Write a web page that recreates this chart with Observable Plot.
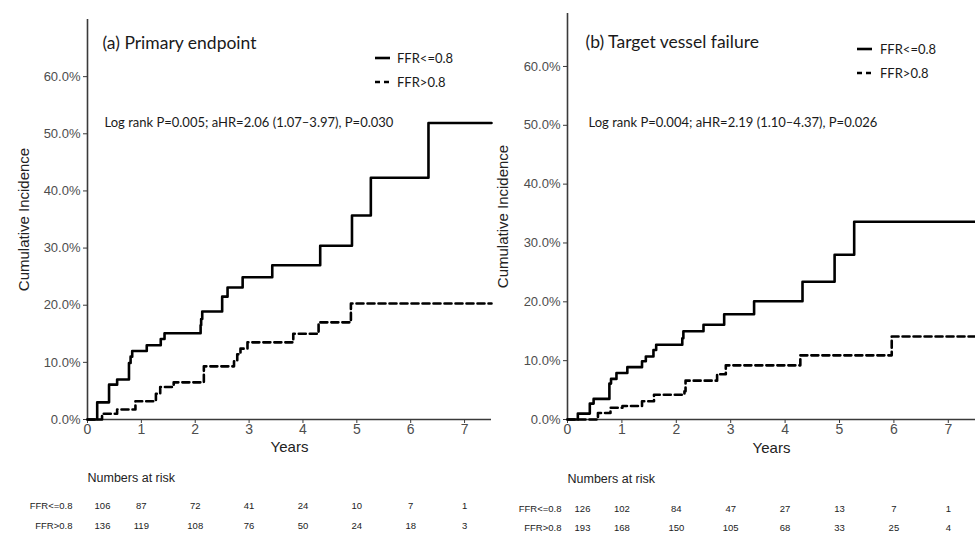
<!DOCTYPE html>
<html>
<head>
<meta charset="utf-8">
<script src="https://cdn.jsdelivr.net/npm/d3@7"></script>
<script src="https://cdn.jsdelivr.net/npm/@observablehq/plot@0.6"></script>
<style>
  html, body { margin: 0; padding: 0; background: #fff; }
  #wrap { position: relative; width: 975px; height: 539px; overflow: hidden; }
  #wrap svg { position: absolute; top: 0; }
</style>
</head>
<body>
<div id="wrap"></div>
<script>
// ---- data ----
const years = [0, 1, 2, 3, 4, 5, 6, 7];
const groups = ["FFR<=0.8", "FFR>0.8"];

// Panel (a) Primary endpoint
const aLowT = [0, 0.18, 0.40, 0.55, 0.77, 0.80, 0.83, 1.10, 1.36, 1.43, 2.10, 2.11, 2.13, 2.50, 2.60, 2.88, 3.43, 4.32, 4.91, 5.26, 6.33, 7.5];
const aLowV = [0, 3.0, 6.1, 7.0, 9.9, 11.0, 12.0, 13.0, 14.1, 15.1, 16.5, 17.6, 18.9, 21.5, 23.1, 24.9, 27.0, 30.4, 35.7, 42.3, 51.9, 51.9];
const aHighT = [0, 0.27, 0.55, 0.89, 1.27, 1.35, 1.60, 2.16, 2.72, 2.78, 2.84, 2.97, 3.82, 4.29, 4.89, 7.5];
const aHighV = [0, 1.0, 1.75, 3.2, 4.5, 5.7, 6.5, 9.3, 10.2, 11.4, 12.4, 13.5, 15.0, 17.0, 20.3, 20.3];
const aRiskLow = [106, 87, 72, 41, 24, 10, 7, 1];
const aRiskHigh = [136, 119, 108, 76, 50, 24, 18, 3];
const aTitle = "(a) Primary endpoint";
const aStat = "Log rank P=0.005; aHR=2.06 (1.07\u20133.97), P=0.030";

// Panel (b) Target vessel failure
const bLowT = [0, 0.19, 0.41, 0.48, 0.77, 0.80, 0.90, 1.10, 1.37, 1.44, 1.58, 1.63, 2.11, 2.13, 2.50, 2.88, 3.43, 4.32, 4.91, 5.27, 7.5];
const bLowV = [0, 1.0, 2.7, 3.5, 6.1, 6.9, 7.9, 8.9, 9.9, 10.7, 11.8, 12.7, 13.8, 15.0, 16.1, 17.9, 20.1, 23.4, 28.0, 33.6, 33.6];
const bHighT = [0, 0.56, 0.79, 1.01, 1.37, 1.59, 2.15, 2.17, 2.75, 2.91, 4.28, 5.96, 7.5];
const bHighV = [0, 1.1, 2.0, 2.3, 3.1, 4.2, 4.8, 6.6, 7.7, 9.2, 10.9, 14.1, 14.1];
const bRiskLow = [126, 102, 84, 47, 27, 13, 7, 1];
const bRiskHigh = [193, 168, 150, 105, 68, 33, 25, 4];
const bTitle = "(b) Target vessel failure";
const bStat = "Log rank P=0.004; aHR=2.19 (1.10\u20134.37), P=0.026";

const yTicks = [0, 0.1, 0.2, 0.3, 0.4, 0.5, 0.6];
const yLabel = "Cumulative Incidence";
const xLabel = "Years";
const riskTitle = "Numbers at risk";

// ---- drawing ----
const toPts = (T, V) => T.map((t, i) => ({t, v: V[i] / 100}));
const toRisk = (R) => R.map((n, i) => ({t: years[i], n}));

const SANS = "'Liberation Sans', Arial, sans-serif";
const CAL = "Lato, 'Open Sans', sans-serif";
const GREY = "#4d4d4d";
const AX = "#3a3a3a";

function panel(o) {
  const lowRisk = toRisk(o.riskLow), highRisk = toRisk(o.riskHigh);
  const svg = Plot.plot({
    width: o.width,
    height: 539,
    marginLeft: o.ml,
    marginRight: 0,
    marginTop: o.mt,
    marginBottom: 120,
    style: {fontFamily: SANS, background: "transparent", overflow: "visible"},
    x: {domain: [0, 7.5]},
    y: {domain: [0, o.yMax]},
    marks: [
      Plot.axisY({ticks: yTicks, tickFormat: d3.format(".1%"), tickSize: 4, tickPadding: 3, fontSize: 13, color: GREY, stroke: AX, label: null}),
      Plot.axisX({ticks: years, tickSize: 4, tickPadding: 1, fontSize: 14, color: GREY, stroke: AX, label: null}),
      Plot.ruleX([0], {stroke: AX, strokeWidth: 1.6}),
      Plot.ruleY([0], {stroke: AX, strokeWidth: 1.6}),
      Plot.line(toPts(o.lowT, o.lowV), {x: "t", y: "v", curve: "step-after", stroke: "#000", strokeWidth: 2.6}),
      Plot.line(toPts(o.highT, o.highV), {x: "t", y: "v", curve: "step-after", stroke: "#000", strokeWidth: 2.6, strokeDasharray: "7,4"}),
      // axis titles
      Plot.text([xLabel], {frameAnchor: "bottom", dy: o.yearsDy, text: d => d, fontSize: 15, fill: "#222"}),
      Plot.text([yLabel], {frameAnchor: "left", dx: o.ylabDx, rotate: -90, textAnchor: "middle", text: d => d, fontSize: 15, fill: "#222"}),
      // title and statistics
      Plot.text([o.title], {frameAnchor: "top-left", dx: o.titleDx, dy: o.titleDy, textAnchor: "start", text: d => d, fontSize: 17.5, fontFamily: CAL, fill: "#1a1a1a"}),
      Plot.text([o.stat], {frameAnchor: "top-left", dx: o.statDx, dy: o.statDy, textAnchor: "start", text: d => d, fontSize: 13, fontFamily: CAL, fill: "#1a1a1a"}),
      // risk table
      Plot.text([riskTitle], {frameAnchor: "bottom-left", dy: o.riskTitleDy, textAnchor: "start", text: d => d, fontSize: 12.5, fill: "#222"}),
      Plot.text([groups[0]], {frameAnchor: "bottom-left", dx: o.rowLabDx, dy: o.row1Dy, textAnchor: "end", text: d => d, fontSize: 9.5, fill: "#222"}),
      Plot.text([groups[1]], {frameAnchor: "bottom-left", dx: o.rowLabDx, dy: o.row2Dy, textAnchor: "end", text: d => d, fontSize: 9.5, fill: "#222"}),
      Plot.text(lowRisk.slice(0, 1), {x: "t", text: "n", frameAnchor: "bottom", dx: 15, dy: o.row1Dy, fontSize: 9.5, fill: "#222"}),
      Plot.text(lowRisk.slice(1), {x: "t", text: "n", frameAnchor: "bottom", dy: o.row1Dy, fontSize: 9.5, fill: "#222"}),
      Plot.text(highRisk.slice(0, 1), {x: "t", text: "n", frameAnchor: "bottom", dx: 15, dy: o.row2Dy, fontSize: 9.5, fill: "#222"}),
      Plot.text(highRisk.slice(1), {x: "t", text: "n", frameAnchor: "bottom", dy: o.row2Dy, fontSize: 9.5, fill: "#222"})
    ]
  });
  svg.style.left = o.left + "px";
  // legend
  const g = d3.select(svg).append("g").attr("transform", `translate(${o.ml + o.legX},${o.mt + o.legY})`);
  groups.forEach((name, i) => {
    g.append("line").attr("x1", 0).attr("x2", 15).attr("y1", i * 24).attr("y2", i * 24)
      .attr("stroke", "#000").attr("stroke-width", 2.6)
      .attr("stroke-dasharray", i === 1 ? "5,4" : null);
    g.append("text").attr("x", o.legTextDx).attr("y", i * 24).attr("dy", "0.35em")
      .attr("text-anchor", "start")
      .attr("font-family", CAL).attr("font-size", 13).attr("fill", "#1a1a1a").text(name);
  });
  document.getElementById("wrap").appendChild(svg);
}

panel({
  left: 0, width: 491, ml: 87, mt: 19, yMax: 0.70,
  lowT: aLowT, lowV: aLowV, highT: aHighT, highV: aHighV,
  riskLow: aRiskLow, riskHigh: aRiskHigh, title: aTitle, stat: aStat,
  yearsDy: 32, ylabDx: -63, titleDx: 15, titleDy: 17, statDx: 17, statDy: 98,
  riskTitleDy: 62, rowLabDx: -15, row1Dy: 89, row2Dy: 109,
  legX: 288, legY: 39, legTextDx: 22
});
panel({
  left: 491, width: 484, ml: 76, mt: 13, yMax: 0.69,
  lowT: bLowT, lowV: bLowV, highT: bHighT, highV: bHighV,
  riskLow: bRiskLow, riskHigh: bRiskHigh, title: bTitle, stat: bStat,
  yearsDy: 33, ylabDx: -64, titleDx: 18, titleDy: 22, statDx: 21, statDy: 104,
  riskTitleDy: 63, rowLabDx: -6, row1Dy: 92, row2Dy: 111,
  legX: 290, legY: 36, legTextDx: 23
});
</script>
</body>
</html>
